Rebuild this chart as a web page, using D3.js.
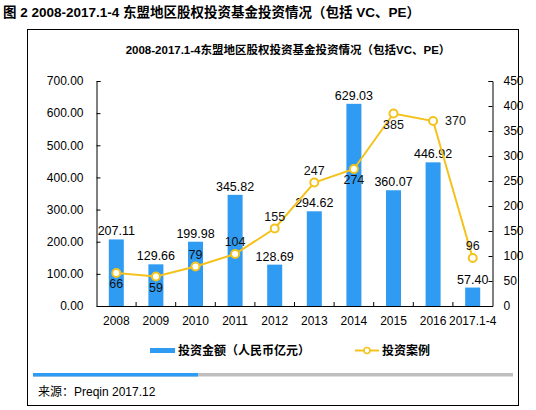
<!DOCTYPE html>
<html>
<head>
<meta charset="utf-8">
<script src="https://cdn.jsdelivr.net/npm/d3@7"></script>
<style>
  body { margin: 0; background: #fff; }
  svg text { font-family: "Liberation Sans", Arial, "Noto Sans CJK SC", sans-serif; }
  .cjk { font-family: "Liberation Sans", "Noto Sans CJK SC", sans-serif; }
</style>
</head>
<body>
<div id="chart"></div>
<script>
// data
var years = ["2008", "2009", "2010", "2011", "2012", "2013", "2014", "2015", "2016", "2017.1-4"];
var amounts = [207.11, 129.66, 199.98, 345.82, 128.69, 294.62, 629.03, 360.07, 446.92, 57.40];
var cases = [66, 59, 79, 104, 155, 247, 274, 385, 370, 96];
// where the case label sits relative to its point
var caseLabelPos = ["below", "below", "above", "above", "above", "above", "below", "below", "right", "above"];
var leftTicks = [0, 100, 200, 300, 400, 500, 600, 700];
var rightTicks = [0, 50, 100, 150, 200, 250, 300, 350, 400, 450];

drawChart();

function drawChart() {
    var width = 536, height = 410;
    var blue = "#2f9bf2", gold = "#f4c21b";

    var svg = d3.select("#chart").append("svg")
        .attr("width", width)
        .attr("height", height);

    // page title
    svg.append("text")
        .attr("class", "cjk")
        .attr("x", 3)
        .attr("y", 17)
        .attr("font-size", 13.5)
        .attr("font-weight", "bold")
        .text("图 2 2008-2017.1-4 东盟地区股权投资基金投资情况（包括 VC、PE）");

    // frame
    svg.append("rect")
        .attr("x", 27.5).attr("y", 29.5)
        .attr("width", 491).attr("height", 376)
        .attr("fill", "none")
        .attr("stroke", "#000")
        .attr("stroke-width", 1);

    // chart title
    svg.append("text")
        .attr("class", "cjk")
        .attr("x", 288)
        .attr("y", 54)
        .attr("text-anchor", "middle")
        .attr("font-size", 11.5)
        .attr("font-weight", "bold")
        .text("2008-2017.1-4东盟地区股权投资基金投资情况（包括VC、PE）");

    // plot area
    var pLeft = 96.5, pRight = 492.5, pTop = 81, pBottom = 306;

    var x = d3.scaleBand().domain(years).range([pLeft, pRight]);
    var yL = d3.scaleLinear().domain([0, 700]).range([pBottom, pTop]);
    var yR = d3.scaleLinear().domain([0, 450]).range([pBottom, pTop]);

    // bars
    svg.append("g")
        .selectAll("rect")
        .data(amounts)
        .enter()
        .append("rect")
        .attr("x", (d, i) => x(years[i]) + x.bandwidth() / 2 - 7.5)
        .attr("y", d => yL(d))
        .attr("width", 15)
        .attr("height", d => pBottom - yL(d))
        .attr("fill", blue);

    // axes
    var axisL = d3.axisLeft(yL).tickValues(leftTicks).tickFormat(d3.format(".2f")).tickSize(-4).tickPadding(13);
    var axisR = d3.axisRight(yR).tickValues(rightTicks).tickSize(-4).tickPadding(11);
    var axisB = d3.axisBottom(x).tickSize(0).tickPadding(10);

    var gL = svg.append("g").attr("transform", "translate(" + pLeft + ",0)").call(axisL);
    var gR = svg.append("g").attr("transform", "translate(" + pRight + ",0)").call(axisR);
    var gB = svg.append("g").attr("transform", "translate(0," + pBottom + ")").call(axisB);

    [gL, gR, gB].forEach(function (g) {
        g.select(".domain").attr("stroke", "#000");
        g.selectAll(".tick line").attr("stroke", "#000");
        g.selectAll("text").attr("font-size", 12).attr("fill", "#000");
    });

    // category separator ticks pointing up
    svg.append("g")
        .selectAll("line")
        .data(years.slice(1))
        .enter()
        .append("line")
        .attr("x1", d => x(d))
        .attr("x2", d => x(d))
        .attr("y1", pBottom)
        .attr("y2", pBottom - 4)
        .attr("stroke", "#000");

    // bar labels
    svg.append("g")
        .selectAll("text")
        .data(amounts)
        .enter()
        .append("text")
        .attr("x", (d, i) => x(years[i]) + x.bandwidth() / 2)
        .attr("y", d => yL(d) - 4)
        .attr("text-anchor", "middle")
        .attr("font-size", 12.5)
        .attr("fill", "#000")
        .text(d => d.toFixed(2));

    // line (straight segments)
    var cx = (d, i) => x(years[i]) + x.bandwidth() / 2;
    var line = d3.line()
        .x(cx)
        .y(d => yR(d));

    svg.append("path")
        .datum(cases)
        .attr("d", line)
        .attr("fill", "none")
        .attr("stroke", gold)
        .attr("stroke-width", 2);

    svg.append("g")
        .selectAll("circle")
        .data(cases)
        .enter()
        .append("circle")
        .attr("cx", cx)
        .attr("cy", d => yR(d))
        .attr("r", 4)
        .attr("fill", "#fff")
        .attr("stroke", gold)
        .attr("stroke-width", 2);

    // case labels
    svg.append("g")
        .selectAll("text")
        .data(cases)
        .enter()
        .append("text")
        .attr("x", (d, i) => caseLabelPos[i] == "right" ? cx(d, i) + 12 : cx(d, i))
        .attr("y", (d, i) => {
            var p = caseLabelPos[i];
            if (p == "above") return yR(d) - 8;
            if (p == "below") return yR(d) + 15;
            return yR(d) + 4;
        })
        .attr("text-anchor", (d, i) => caseLabelPos[i] == "right" ? "start" : "middle")
        .attr("font-size", 12.5)
        .attr("fill", "#111")
        .text(d => d);

    // legend
    var legend = svg.append("g");
    legend.append("rect")
        .attr("x", 150).attr("y", 348)
        .attr("width", 25).attr("height", 5)
        .attr("fill", blue);
    legend.append("text")
        .attr("class", "cjk")
        .attr("x", 178).attr("y", 355)
        .attr("font-size", 12)
        .attr("font-weight", "bold")
        .text("投资金额（人民币亿元）");
    legend.append("line")
        .attr("x1", 355).attr("x2", 379)
        .attr("y1", 350.5).attr("y2", 350.5)
        .attr("stroke", gold)
        .attr("stroke-width", 2);
    legend.append("circle")
        .attr("cx", 367).attr("cy", 350.5)
        .attr("r", 3)
        .attr("fill", "#fff")
        .attr("stroke", gold)
        .attr("stroke-width", 1.5);
    legend.append("text")
        .attr("class", "cjk")
        .attr("x", 382).attr("y", 355)
        .attr("font-size", 12)
        .attr("font-weight", "bold")
        .text("投资案例");

    // bottom bar
    svg.append("rect")
        .attr("x", 33).attr("y", 373)
        .attr("width", 480).attr("height", 3.5)
        .attr("fill", "#bfbfbf");
    svg.append("rect")
        .attr("x", 33).attr("y", 373)
        .attr("width", 165).attr("height", 3.5)
        .attr("fill", blue);

    // source
    svg.append("text")
        .attr("class", "cjk")
        .attr("x", 38).attr("y", 396)
        .attr("font-size", 12)
        .text("来源：Preqin 2017.12");
}
</script>
</body>
</html>
